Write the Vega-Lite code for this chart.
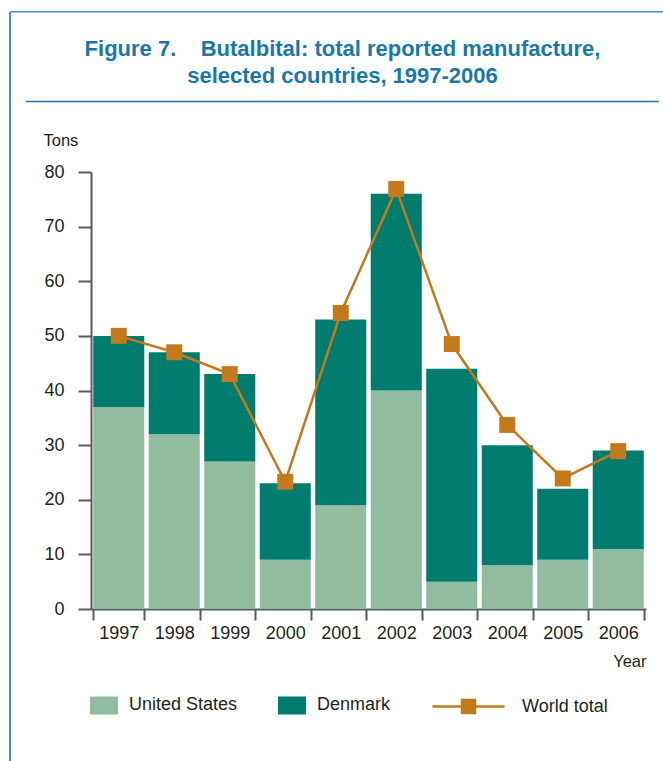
{
  "$schema": "https://vega.github.io/schema/vega-lite/v6.json",
  "autosize": {"type": "none"},
  "width": 555,
  "height": 437,
  "padding": {"left": 91, "top": 172, "right": 17, "bottom": 152},
  "background": "white",
  "title": {
    "text": ["Figure 7.\u00a0\u00a0\u00a0 Butalbital: total reported manufacture,", "selected countries, 1997-2006"],
    "font": "Liberation Sans",
    "fontSize": 22,
    "fontWeight": "bold",
    "color": "#1b78a6",
    "lineHeight": 27,
    "anchor": "middle",
    "frame": "group",
    "dx": -26,
    "offset": 0,
    "dy": 78
  },
  "datasets": {
    "bars": [
      {"year": "1997", "country": "United States", "tons": 37},
      {"year": "1997", "country": "Denmark", "tons": 13},
      {"year": "1998", "country": "United States", "tons": 32},
      {"year": "1998", "country": "Denmark", "tons": 15},
      {"year": "1999", "country": "United States", "tons": 27},
      {"year": "1999", "country": "Denmark", "tons": 16},
      {"year": "2000", "country": "United States", "tons": 9},
      {"year": "2000", "country": "Denmark", "tons": 14},
      {"year": "2001", "country": "United States", "tons": 19},
      {"year": "2001", "country": "Denmark", "tons": 34},
      {"year": "2002", "country": "United States", "tons": 40},
      {"year": "2002", "country": "Denmark", "tons": 36},
      {"year": "2003", "country": "United States", "tons": 5},
      {"year": "2003", "country": "Denmark", "tons": 39},
      {"year": "2004", "country": "United States", "tons": 8},
      {"year": "2004", "country": "Denmark", "tons": 22},
      {"year": "2005", "country": "United States", "tons": 9},
      {"year": "2005", "country": "Denmark", "tons": 13},
      {"year": "2006", "country": "United States", "tons": 11},
      {"year": "2006", "country": "Denmark", "tons": 18}
    ],
    "world": [
      {"year": "1997", "total": 50},
      {"year": "1998", "total": 47},
      {"year": "1999", "total": 43},
      {"year": "2000", "total": 23.3},
      {"year": "2001", "total": 54.2},
      {"year": "2002", "total": 76.9},
      {"year": "2003", "total": 48.5},
      {"year": "2004", "total": 33.7},
      {"year": "2005", "total": 23.9},
      {"year": "2006", "total": 28.9}
    ]
  },
  "resolve": {"axis": {"x": "independent", "y": "independent"}},
  "layer": [
    {
      "data": {"name": "bars"},
      "mark": {"type": "bar", "strokeWidth": 0},
      "encoding": {
        "x": {
          "field": "year", "type": "ordinal",
          "scale": {"paddingInner": 0.08, "paddingOuter": 0.04},
          "axis": {
            "title": "Year", "titleAnchor": "end", "titleAlign": "right",
            "titleX": 555, "titleY": 57, "titleBaseline": "alphabetic",
            "titleFont": "Liberation Sans", "titleFontSize": 16.5, "titleFontWeight": "normal", "titleColor": "#231f20",
            "labelAngle": 0, "labelFont": "Liberation Sans", "labelFontSize": 18, "labelColor": "#231f20",
            "labelPadding": 4, "tickSize": 11, "tickBand": "extent",
            "domainColor": "#5a5a5a", "domainWidth": 2, "tickColor": "#5a5a5a", "tickWidth": 2, "grid": false
          }
        },
        "y": {
          "field": "tons", "type": "quantitative", "stack": "zero",
          "scale": {"domain": [0, 80], "nice": false},
          "axis": {
            "values": [0, 10, 20, 30, 40, 50, 60, 70, 80],
            "title": "Tons", "titleAngle": 0, "titleAlign": "left", "titleBaseline": "alphabetic",
            "titleX": -48, "titleY": -27,
            "titleFont": "Liberation Sans", "titleFontSize": 16.5, "titleFontWeight": "normal", "titleColor": "#231f20",
            "labelFont": "Liberation Sans", "labelFontSize": 18, "labelColor": "#231f20", "labelPadding": 14,
            "tickSize": 13, "domainColor": "#5a5a5a", "domainWidth": 2, "tickColor": "#5a5a5a", "tickWidth": 2, "grid": false
          }
        },
        "color": {
          "field": "country", "type": "nominal",
          "scale": {"domain": ["United States", "Denmark"], "range": ["#92bca0", "#007c6e"]},
          "legend": {
            "title": null, "orient": "none", "legendX": -1, "legendY": 519, "direction": "horizontal",
            "symbolType": "M-1,-0.643H1V0.643H-1Z", "symbolSize": 784, "symbolStrokeWidth": 0,
            "labelOffset": 11, "columnPadding": 40,
            "labelFont": "Liberation Sans", "labelFontSize": 18, "labelColor": "#231f20", "labelLimit": 300
          }
        },
        "order": {"field": "country", "sort": "descending"}
      }
    },
    {
      "data": {"name": "world"},
      "mark": {"type": "line", "strokeWidth": 2.5},
      "encoding": {
        "x": {
          "field": "year", "type": "ordinal",
          "axis": {
            "orient": "top", "values": ["1997"], "position": -108.5, "offset": 160.8,
            "tickSize": -760, "tickColor": "#3d93c5", "tickWidth": 2,
            "labels": false, "domain": false, "grid": false, "title": null
          }
        },
        "y": {
          "field": "total", "type": "quantitative",
          "axis": {
            "orient": "right", "values": [80], "position": -71, "offset": 12.5,
            "tickSize": -633, "tickColor": "#1b78a6", "tickWidth": 1.5,
            "labels": false, "domain": false, "grid": false, "title": null
          }
        },
        "stroke": {
          "datum": "World total",
          "scale": {"range": ["#c27a1c"]},
          "legend": {
            "title": null, "orient": "none", "legendX": 340, "legendY": 497,
            "symbolType": "M-1,0H1M-0.18,-0.18H0.18V0.18H-0.18Z", "symbolSize": 5184, "symbolStrokeWidth": 2.5,
            "labelOffset": 16,
            "labelFont": "Liberation Sans", "labelFontSize": 18, "labelColor": "#231f20", "labelLimit": 300,
            "encode": {"symbols": {"update": {"fill": {"value": "#c27a1c"}, "stroke": {"value": "#c27a1c"}}}}
          }
        }
      }
    },
    {
      "data": {"name": "world"},
      "mark": {"type": "point", "shape": "square", "filled": true, "size": 256, "opacity": 1, "color": "#c27a1c"},
      "encoding": {
        "x": {"field": "year", "type": "ordinal", "axis": null},
        "y": {
          "field": "total", "type": "quantitative",
          "axis": {
            "orient": "right", "values": [80], "position": -160.8, "offset": 20,
            "tickSize": -656, "tickColor": "#3d93c5", "tickWidth": 1.5,
            "labels": false, "domain": false, "grid": false, "title": null
          }
        }
      }
    }
  ],
  "config": {
    "view": {"stroke": null}
  }
}
